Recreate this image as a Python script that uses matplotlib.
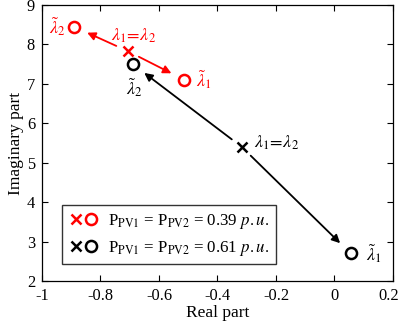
import matplotlib
matplotlib.use("Agg")
import matplotlib.pyplot as plt
import matplotlib.transforms as mtransforms
from matplotlib.legend_handler import HandlerTuple
from matplotlib.lines import Line2D

plt.rcParams['font.family'] = ['Liberation Serif', 'DejaVu Serif']
plt.rcParams['mathtext.fontset'] = 'stix'

# Data: eigenvalue positions (real, imag)
cases = ["0.39", "0.61"]
colors = ["#ff0000", "#000000"]
cross_re = [-0.707, -0.317]
cross_im = [7.83, 5.40]
lam1_re = [-0.513, 0.055]
lam1_im = [7.10, 2.70]
lam2_re = [-0.891, -0.690]
lam2_im = [8.45, 7.50]

xticks = [-1, -0.8, -0.6, -0.4, -0.2, 0, 0.2]
xticklabels = ["-1", "-0.8", "-0.6", "-0.4", "-0.2", "0", "0.2"]
yticks = [2, 3, 4, 5, 6, 7, 8, 9]

fig = plt.figure(figsize=(4.01, 3.24), dpi=100)
ax = fig.add_axes([0.1047, 0.1327, 0.8753, 0.852])

fs = 12.2
afs = 13
handles = []
for i in range(2):
    c = colors[i]
    ax.plot(cross_re[i], cross_im[i], marker='x', color=c, ms=7, mew=1.8, ls='none')
    ax.plot([lam1_re[i], lam2_re[i]], [lam1_im[i], lam2_im[i]], marker='o', mfc='none',
            mec=c, ms=8, mew=1.8, ls='none')
    for tr, ti in [(lam2_re[i], lam2_im[i]), (lam1_re[i], lam1_im[i])]:
        ax.annotate('', xy=(tr, ti), xytext=(cross_re[i], cross_im[i]),
                    arrowprops=dict(arrowstyle='-|>', color=c, lw=1.3,
                                    shrinkA=9, shrinkB=10.5, mutation_scale=12))
    h1 = Line2D([], [], marker='x', color=c, ms=7, mew=1.8, ls='none')
    h2 = Line2D([], [], marker='o', mfc='none', mec=c, ms=8, mew=1.8, ls='none')
    handles.append((h1, h2))

red, blk = colors
# annotations
ax.annotate(r'$\tilde{\lambda}_2$', xy=(lam2_re[0], lam2_im[0]), xytext=(-6, 0),
            textcoords='offset points', ha='right', va='center', color=red, fontsize=afs)
ax.annotate(r'$\tilde{\lambda}_1$', xy=(lam1_re[0], lam1_im[0]), xytext=(8, 0),
            textcoords='offset points', ha='left', va='center', color=red, fontsize=afs)
ax.annotate(r'$\lambda_1\!=\!\lambda_2$', xy=(cross_re[0], cross_im[0]), xytext=(4, 11),
            textcoords='offset points', ha='center', va='center', color=red, fontsize=afs)
ax.annotate(r'$\tilde{\lambda}_2$', xy=(lam2_re[1], lam2_im[1]), xytext=(1, -9),
            textcoords='offset points', ha='center', va='top', color=blk, fontsize=afs)
ax.annotate(r'$\tilde{\lambda}_1$', xy=(lam1_re[1], lam1_im[1]), xytext=(11, 0),
            textcoords='offset points', ha='left', va='center', color=blk, fontsize=afs)
ax.annotate(r'$\lambda_1\!=\!\lambda_2$', xy=(cross_re[1], cross_im[1]), xytext=(9, 3),
            textcoords='offset points', ha='left', va='center', color=blk, fontsize=afs)

labels = [r'P$_{\mathrm{PV1}}$ = P$_{\mathrm{PV2}}$ = ' + v + r' $\it{p.u.}$' for v in cases]
leg = ax.legend(handles, labels, handler_map={tuple: HandlerTuple(ndivide=None, pad=0.05)},
                loc='lower left', bbox_to_anchor=(0.057, 0.06), fontsize=fs,
                frameon=True, fancybox=False, edgecolor='black', handlelength=1.7,
                handletextpad=0.6, borderpad=0.4, labelspacing=0.45, borderaxespad=0)
leg.get_frame().set_linewidth(1.0)

ax.set_xlim(-1, 0.2)
ax.set_ylim(2, 9)
ax.set_xticks(xticks)
ax.set_xticklabels(xticklabels)
ax.set_yticks(yticks)
ax.tick_params(direction='in', top=True, right=True, labelsize=11.8, length=4, width=0.8, pad=5)
ax.set_xlabel('Real part', fontsize=12.5, labelpad=1)
ax.set_ylabel('Imaginary part', fontsize=12.5, labelpad=2)
for s in ax.spines.values():
    s.set_linewidth(0.9)

# keep the last x tick label inside the canvas
last = ax.get_xticklabels()[-1]
last.set_transform(last.get_transform() +
                   mtransforms.ScaledTranslation(-3 / 72, 0, fig.dpi_scale_trans))

fig.savefig('out.png', dpi=100)
